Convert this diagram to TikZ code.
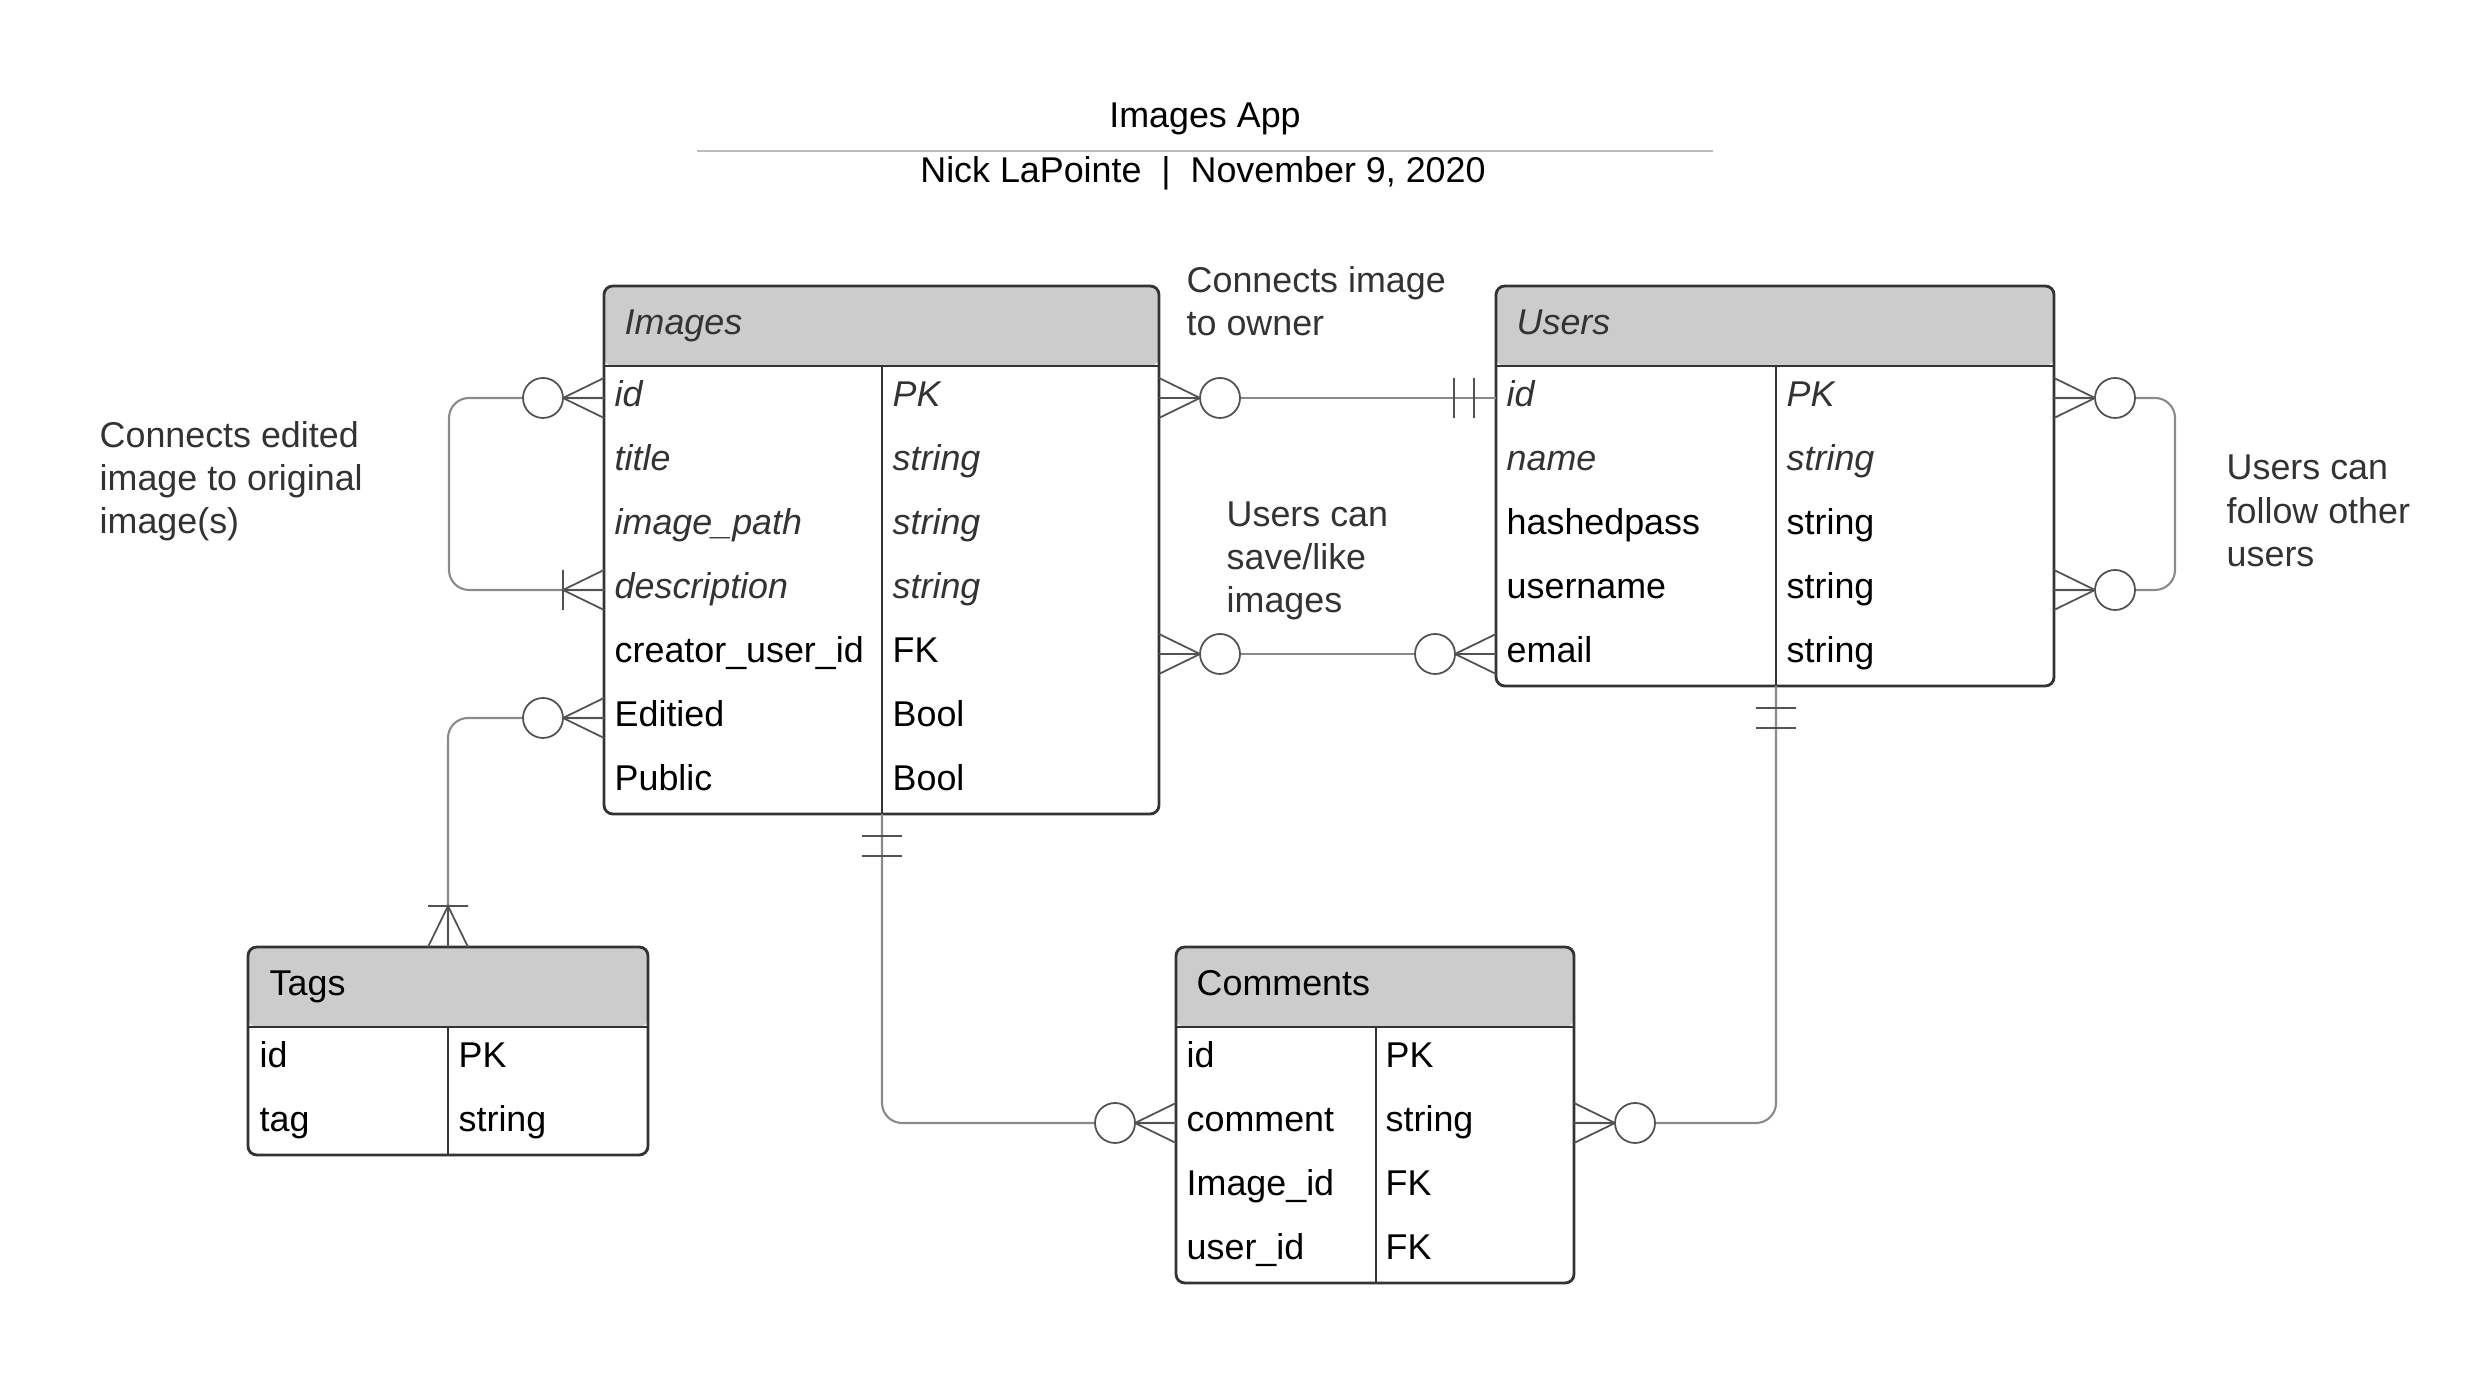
\documentclass[tikz,border=0pt]{standalone}
\usepackage{fontspec}
\setmainfont{Liberation Sans}
\definecolor{hdrgray}{HTML}{CCCCCC}
\definecolor{edge}{HTML}{333333}
\definecolor{wire}{HTML}{8A8A8A}
\definecolor{soft}{HTML}{333333}
\definecolor{rulegray}{HTML}{BBBBBB}

\tikzset{
  tbl/.style={draw=edge, line width=0.8pt, rounded corners=2.5pt, inner sep=0pt, outer sep=0pt, anchor=north west,
    path picture={\fill[hdrgray] (path picture bounding box.north west) rectangle ([yshift=-0.8cm]path picture bounding box.north east);}},
  tblline/.style={draw=edge, line width=0.8pt},
  colline/.style={draw=edge, line width=0.6pt},
  fld/.style={anchor=west, inner sep=0pt, text height=7.5pt, text depth=2.5pt, font=\fontsize{10.2}{12.3}\selectfont},
  it/.style={font=\fontsize{10.2}{12.3}\selectfont\itshape, text=soft},
  note/.style={anchor=west, align=left, inner sep=0pt, text=soft, font=\fontsize{10.2}{12.3}\selectfont},
  conn/.style={draw=wire, line width=0.6pt},
  foot/.style={draw=edge!85, line width=0.5pt},
  zmany/.pic={
    \draw[foot] (0,0.2) -- (0.41,0) -- (0,-0.2) (0,0) -- (0.41,0);
    \draw[foot, fill=white] (0.61,0) circle (0.2);
  },
  onemany/.pic={
    \draw[foot] (0,0.2) -- (0.41,0) -- (0,-0.2) (0,0) -- (0.41,0) (0.41,0.2) -- (0.41,-0.2);
  },
  oneone/.pic={
    \draw[foot] (0.22,0.2) -- (0.22,-0.2) (0.42,0.2) -- (0.42,-0.2);
  }
}

\begin{document}
\begin{tikzpicture}[x=1cm,y=1cm]
\useasboundingbox (0,0) rectangle (24.66,13.98);

% title block
\node[fld, anchor=center] (title) at (12.05,12.79) {Images App};
\draw[rulegray, line width=0.5pt] (6.97,12.47) -- (17.13,12.47);
\node[fld, anchor=center] (byline) at (12.03,12.24) {Nick LaPointe~~|~~November 9, 2020};

% tables
\node[tbl, minimum width=5.55cm, minimum height=5.28cm] (images) at (6.04,11.12) {};
\node[tbl, minimum width=5.58cm, minimum height=4.00cm] (users) at (14.96,11.12) {};
\node[tbl, minimum width=4.00cm, minimum height=2.08cm] (tags) at (2.48,4.51) {};
\node[tbl, minimum width=3.98cm, minimum height=3.36cm] (comments) at (11.76,4.51) {};

\coordinate (img-col) at (8.82,10.32);
\coordinate (usr-col) at (17.76,10.32);
\coordinate (tag-col) at (4.48,3.71);
\coordinate (cmt-col) at (13.76,3.71);

\draw[tblline] ([yshift=-0.8cm]images.north west) -- ([yshift=-0.8cm]images.north east);
\draw[tblline] ([yshift=-0.8cm]users.north west) -- ([yshift=-0.8cm]users.north east);
\draw[tblline] ([yshift=-0.8cm]tags.north west) -- ([yshift=-0.8cm]tags.north east);
\draw[tblline] ([yshift=-0.8cm]comments.north west) -- ([yshift=-0.8cm]comments.north east);
\draw[colline] (img-col) -- (img-col |- images.south);
\draw[colline] (usr-col) -- (usr-col |- users.south);
\draw[colline] (tag-col) -- (tag-col |- tags.south);
\draw[colline] (cmt-col) -- (cmt-col |- comments.south);

% Images
\node[fld, it] (images-hd) at (6.24,10.72) {Images};
\node[fld, it] (img-id) at (6.14,10.00) {id};
\node[fld, it] (img-title) at (6.14,9.36) {title};
\node[fld, it] (img-path) at (6.14,8.72) {image\_path};
\node[fld, it] (img-desc) at (6.14,8.08) {description};
\node[fld] (img-creator) at (6.14,7.44) {creator\_user\_id};
\node[fld] (img-edit) at (6.14,6.80) {Editied};
\node[fld] (img-public) at (6.14,6.16) {Public};
\node[fld, it] (img-id-t) at (8.92,10.00) {PK};
\node[fld, it] (img-title-t) at (8.92,9.36) {string};
\node[fld, it] (img-path-t) at (8.92,8.72) {string};
\node[fld, it] (img-desc-t) at (8.92,8.08) {string};
\node[fld] (img-creator-t) at (8.92,7.44) {FK};
\node[fld] (img-edit-t) at (8.92,6.80) {Bool};
\node[fld] (img-public-t) at (8.92,6.16) {Bool};

% Users
\node[fld, it] (users-hd) at (15.16,10.72) {Users};
\node[fld, it] (usr-id) at (15.06,10.00) {id};
\node[fld, it] (usr-name) at (15.06,9.36) {name};
\node[fld] (usr-hash) at (15.06,8.72) {hashedpass};
\node[fld] (usr-username) at (15.06,8.08) {username};
\node[fld] (usr-email) at (15.06,7.44) {email};
\node[fld, it] (usr-id-t) at (17.86,10.00) {PK};
\node[fld, it] (usr-name-t) at (17.86,9.36) {string};
\node[fld] (usr-hash-t) at (17.86,8.72) {string};
\node[fld] (usr-username-t) at (17.86,8.08) {string};
\node[fld] (usr-email-t) at (17.86,7.44) {string};

% Tags
\node[fld] (tags-hd) at (2.69,4.11) {Tags};
\node[fld] (tag-id) at (2.59,3.39) {id};
\node[fld] (tag-tag) at (2.59,2.75) {tag};
\node[fld] (tag-id-t) at (4.58,3.39) {PK};
\node[fld] (tag-tag-t) at (4.58,2.75) {string};

% Comments
\node[fld] (cmt-hd) at (11.96,4.11) {Comments};
\node[fld] (cmt-id) at (11.86,3.39) {id};
\node[fld] (cmt-comment) at (11.86,2.75) {comment};
\node[fld] (cmt-image) at (11.86,2.11) {Image\_id};
\node[fld] (cmt-user) at (11.86,1.47) {user\_id};
\node[fld] (cmt-id-t) at (13.85,3.39) {PK};
\node[fld] (cmt-comment-t) at (13.85,2.75) {string};
\node[fld] (cmt-image-t) at (13.85,2.11) {FK};
\node[fld] (cmt-user-t) at (13.85,1.47) {FK};

% notes
\node[note] (note-edit) at (0.99,9.17) {Connects edited\\image to original\\image(s)};
\node[note] (note-owner) at (11.86,10.97) {Connects image\\to owner};
\node[note] (note-like) at (12.26,8.37) {Users can\\save/like\\images};
\node[note] (note-follow) at (22.26,8.87) {Users can\\follow other\\users};

% relations
\draw[conn, rounded corners=0.2cm] (images.west |- img-id) -- ++(-1.55,0) |- (images.west |- img-desc);
\draw[conn, rounded corners=0.2cm] (images.west |- img-edit) -| (tags.north);
\draw[conn] (images.east |- img-id) -- (users.west |- usr-id);
\draw[conn] (images.east |- img-creator) -- (users.west |- usr-email);
\draw[conn, rounded corners=0.2cm] (users.east |- usr-id) -- ++(1.21,0) |- (users.east |- usr-username);
\draw[conn, rounded corners=0.2cm] (img-col |- images.south) |- (comments.west |- cmt-comment);
\draw[conn, rounded corners=0.2cm] (usr-col |- users.south) |- (comments.east |- cmt-comment);

\path (images.west |- img-id) pic[rotate=180] {zmany};
\path (images.west |- img-desc) pic[rotate=180] {onemany};
\path (images.west |- img-edit) pic[rotate=180] {zmany};
\path (tags.north) pic[rotate=90] {onemany};
\path (images.east |- img-id) pic {zmany};
\path (users.west |- usr-id) pic[rotate=180] {oneone};
\path (images.east |- img-creator) pic {zmany};
\path (users.west |- usr-email) pic[rotate=180] {zmany};
\path (users.east |- usr-id) pic {zmany};
\path (users.east |- usr-username) pic {zmany};
\path (img-col |- images.south) pic[rotate=-90] {oneone};
\path (comments.west |- cmt-comment) pic[rotate=180] {zmany};
\path (usr-col |- users.south) pic[rotate=-90] {oneone};
\path (comments.east |- cmt-comment) pic {zmany};
\end{tikzpicture}
\end{document}
